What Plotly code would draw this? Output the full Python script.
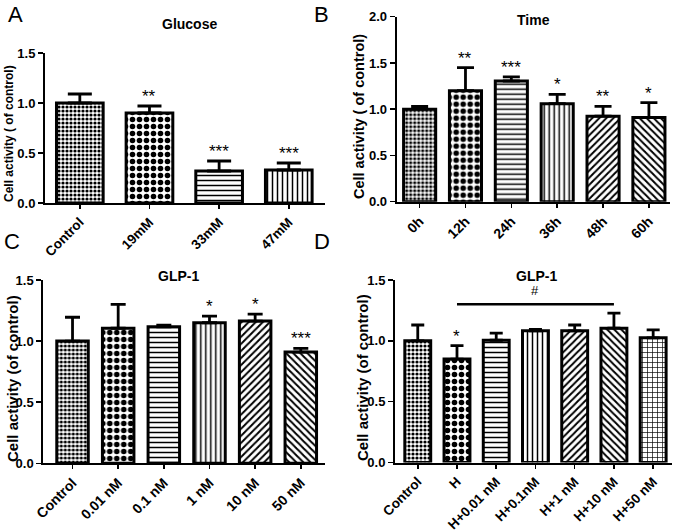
import plotly.graph_objects as go

# ---------------- data ----------------
a_cats = ["Control", "19mM", "33mM", "47mM"]
a_vals = [1.00, 0.90, 0.32, 0.33]
a_errs = [0.09, 0.07, 0.10, 0.07]
a_sig = ["", "**", "***", "***"]

b_cats = ["0h", "12h", "24h", "36h", "48h", "60h"]
b_vals = [1.00, 1.20, 1.305, 1.06, 0.925, 0.91]
b_errs = [0.03, 0.25, 0.045, 0.10, 0.105, 0.16]
b_sig = ["", "**", "***", "*", "**", "*"]

c_cats = ["Control", "0.01 nM", "0.1 nM", "1 nM", "10 nM", "50 nM"]
c_vals = [1.00, 1.105, 1.117, 1.15, 1.164, 0.91]
c_errs = [0.195, 0.195, 0.013, 0.055, 0.056, 0.03]
c_sig = ["", "", "", "*", "*", "***"]

d_cats = ["Control", "H", "H+0.01 nM", "H+0.1nM", "H+1 nM", "H+10 nM", "H+50 nM"]
d_vals = [1.00, 0.85, 1.005, 1.082, 1.082, 1.104, 1.025]
d_errs = [0.13, 0.11, 0.058, 0.011, 0.048, 0.123, 0.065]
d_sig = ["", "*", "", "", "", "", ""]
d_bracket = [1, 5, 1.30, "#"]  # from category index, to index, level, label

# patterns (shape, size, solidity)
P_FINE = (".", 4, 0.5)
P_CHECK = (".", 7, 0.5)
P_HLINE = ("-", 5, 0.3)
P_VLINE = ("|", 5, 0.3)
P_DIAG = ("/", 5, 0.4)
P_BDIAG = ("\\", 5, 0.4)
P_GRID = ("+", 5, 0.25)

a_pat = [P_FINE, P_CHECK, P_HLINE, P_VLINE]
b_pat = [P_FINE, P_CHECK, P_HLINE, P_VLINE, P_DIAG, P_BDIAG]
c_pat = [P_FINE, P_CHECK, P_HLINE, P_VLINE, P_DIAG, P_BDIAG]
d_pat = [P_FINE, P_CHECK, P_HLINE, P_VLINE, P_DIAG, P_BDIAG, P_GRID]

W, H = 675, 531
FONT = "Liberation Sans, Arial, sans-serif"

def px_x(p):
    return p / W

def px_y(p):
    return 1 - p / H

panels = [
    dict(cats=a_cats, vals=a_vals, errs=a_errs, sig=a_sig, pats=a_pat,
         xd=(45, 325), yd=(53, 203), xr=[-0.5, 3.52], yr=[0, 1.5], bw=0.67, cap=12, xfs=13.5,
         title="Glucose", tpos=(189, 24), ytitle="Cell activity ( of control)", ypos=(9, 134), ysize=12,
         letter="A", lpos=(15, 14)),
    dict(cats=b_cats, vals=b_vals, errs=b_errs, sig=b_sig, pats=b_pat,
         xd=(396.7, 670), yd=(16.7, 201.7), xr=[-0.5, 5.46], yr=[0, 2.0], bw=0.70, cap=8.5, xfs=14,
         title="Time", tpos=(533, 20), ytitle="Cell activity ( of control)", ypos=(359, 116), ysize=14.5,
         letter="B", lpos=(321, 14)),
    dict(cats=c_cats, vals=c_vals, errs=c_errs, sig=c_sig, pats=c_pat,
         xd=(43.3, 325), yd=(280, 463.3), xr=[-0.64, 5.53], yr=[0, 1.5], bw=0.69, cap=7.5, xfs=14,
         title="GLP-1", tpos=(178, 276), ytitle="Cell activity (of control)", ypos=(12, 379), ysize=15,
         letter="C", lpos=(12, 241)),
    dict(cats=d_cats, vals=d_vals, errs=d_errs, sig=d_sig, pats=d_pat,
         xd=(395, 672), yd=(280, 462.5), xr=[-0.58, 6.48], yr=[0, 1.5], bw=0.66, cap=6.5, xfs=13.5,
         title="GLP-1", tpos=(536, 276), ytitle="Cell activity (of control)", ypos=(362, 378), ysize=15,
         letter="D", lpos=(322, 241)),
]

fig = go.Figure()
annotations = []
shapes = []
layout = {}

for i, p in enumerate(panels, start=1):
    xa = "x" if i == 1 else f"x{i}"
    ya = "y" if i == 1 else f"y{i}"
    idx = list(range(len(p["cats"])))
    fig.add_trace(go.Bar(
        x=idx, y=p["vals"], xaxis=xa, yaxis=ya, width=p["bw"],
        marker=dict(
            color="white",
            line=dict(color="black", width=3),
            pattern=dict(
                shape=[s[0] for s in p["pats"]],
                size=[s[1] for s in p["pats"]],
                solidity=[s[2] for s in p["pats"]],
                fgcolor="black", bgcolor="white", fillmode="replace", fgopacity=1,
            ),
        ),
        error_y=dict(type="data", symmetric=False, array=p["errs"],
                     arrayminus=[0] * len(idx), color="black",
                     thickness=2.8, width=p["cap"]),
        showlegend=False, hoverinfo="skip",
    ))
    xkey = "xaxis" if i == 1 else f"xaxis{i}"
    ykey = "yaxis" if i == 1 else f"yaxis{i}"
    layout[xkey] = dict(
        domain=[px_x(p["xd"][0]), px_x(p["xd"][1])], anchor=ya, range=p["xr"],
        tickmode="array", tickvals=idx, ticktext=p["cats"], tickangle=-45,
        showline=True, linecolor="black", linewidth=2, ticks="outside",
        ticklen=4, tickwidth=1.5, tickcolor="black", showgrid=False, zeroline=False,
        automargin=False, fixedrange=True,
        tickfont=dict(family=FONT, size=p["xfs"], color="black", weight="bold"),
    )
    layout[ykey] = dict(
        domain=[px_y(p["yd"][1]), px_y(p["yd"][0])], anchor=xa, range=p["yr"],
        dtick=0.5, tickformat=".1f", automargin=False, fixedrange=True,
        showline=True, linecolor="black", linewidth=2, ticks="outside",
        ticklen=5, tickwidth=1.5, tickcolor="black", showgrid=False, zeroline=False,
        tickfont=dict(family=FONT, size=13, color="black", weight="bold"),
    )
    for j, s in enumerate(p["sig"]):
        if s:
            annotations.append(dict(
                x=j, y=p["vals"][j] + p["errs"][j], xref=xa, yref=ya,
                text=s, showarrow=False, yanchor="bottom", yshift=-2,
                font=dict(family=FONT, size=17, color="black"),
            ))
    annotations.append(dict(
        x=px_x(p["tpos"][0]), y=px_y(p["tpos"][1]), xref="paper", yref="paper",
        text=p["title"], showarrow=False, xanchor="center", yanchor="middle",
        font=dict(family=FONT, size=14, color="black", weight="bold"),
    ))
    annotations.append(dict(
        x=px_x(p["ypos"][0]), y=px_y(p["ypos"][1]), xref="paper", yref="paper",
        text=p["ytitle"], showarrow=False, xanchor="center", yanchor="middle",
        textangle=-90,
        font=dict(family=FONT, size=p["ysize"], color="black", weight="bold"),
    ))
    annotations.append(dict(
        x=px_x(p["lpos"][0]), y=px_y(p["lpos"][1]), xref="paper", yref="paper",
        text=p["letter"], showarrow=False, xanchor="center", yanchor="middle",
        font=dict(family=FONT, size=22, color="black"),
    ))

shapes.append(dict(type="line", xref="x4", yref="y4",
                   x0=d_bracket[0], x1=d_bracket[1], y0=d_bracket[2], y1=d_bracket[2],
                   line=dict(color="black", width=2.5)))
annotations.append(dict(x=(d_bracket[0] + d_bracket[1]) / 2, y=d_bracket[2],
                        xref="x4", yref="y4", text=d_bracket[3], showarrow=False,
                        yanchor="bottom", yshift=4,
                        font=dict(family=FONT, size=13, color="black")))

fig.update_layout(
    width=W, height=H, margin=dict(l=0, r=0, t=0, b=0),
    paper_bgcolor="white", plot_bgcolor="white",
    annotations=annotations, shapes=shapes, bargap=0.3,
    **layout,
)

fig.write_html("out.html", config={"displayModeBar": False, "staticPlot": True},
               post_script="document.body.style.margin='0';document.body.style.overflow='hidden';")
